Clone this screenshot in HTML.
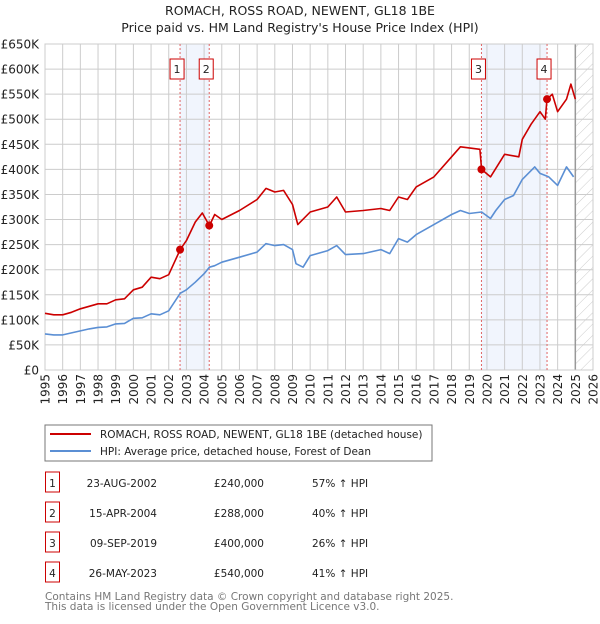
<!DOCTYPE html>
<html><head><meta charset="utf-8"><style>
body{margin:0;background:#fff;font-family:"DejaVu Sans","Liberation Sans",sans-serif;}
svg text{font-family:"DejaVu Sans","Liberation Sans",sans-serif;}
</style></head><body>
<svg id="chart" width="600" height="620" viewBox="0 0 600 620" xmlns="http://www.w3.org/2000/svg">
<defs>
<pattern id="hatch" width="8" height="8" patternUnits="userSpaceOnUse" patternTransform="rotate(45)">
<line x1="0" y1="0" x2="0" y2="8" stroke="#ccc" stroke-width="1"/></pattern>
</defs>
<text x="300" y="15" text-anchor="middle" font-size="12.5" fill="#222">ROMACH, ROSS ROAD, NEWENT, GL18 1BE</text>
<text x="300" y="32" text-anchor="middle" font-size="12.5" fill="#222">Price paid vs. HM Land Registry's House Price Index (HPI)</text>
<g id="plot"></g>
<g>
<rect x="45" y="425" width="387" height="36" fill="#fff" stroke="#777" stroke-width="1"/>
<line x1="50" y1="434" x2="91" y2="434" stroke="#cc0000" stroke-width="2"/>
<text x="100" y="438" font-size="10.5" fill="#222">ROMACH, ROSS ROAD, NEWENT, GL18 1BE (detached house)</text>
<line x1="50" y1="451" x2="91" y2="451" stroke="#5b8fd4" stroke-width="2"/>
<text x="100" y="455" font-size="10.5" fill="#222">HPI: Average price, detached house, Forest of Dean</text>
</g>
<g id="table" font-size="10.5" fill="#222"></g>
<text x="45" y="600" font-size="10.5" fill="#777">Contains HM Land Registry data © Crown copyright and database right 2025.</text>
<text x="45" y="610" font-size="10.5" fill="#777">This data is licensed under the Open Government Licence v3.0.</text>
</svg>
<script>
const hpiYears=[1995,1995.5,1996,1996.5,1997,1997.5,1998,1998.5,1999,1999.5,2000,2000.5,2001,2001.5,2002,2002.65,2003,2003.5,2004,2004.3,2004.6,2005,2006,2007,2007.5,2008,2008.5,2009,2009.2,2009.6,2010,2011,2011.5,2012,2013,2014,2014.5,2015,2015.5,2016,2017,2018,2018.5,2019,2019.7,2020.2,2020.5,2021,2021.5,2022,2022.7,2023,2023.5,2024,2024.5,2024.9];
const hpiValues=[72,70,70,74,78,82,85,86,92,93,103,104,112,110,118,153,160,175,192,205,208,215,225,235,252,248,250,240,212,205,228,238,248,230,232,240,232,262,255,270,290,310,318,312,315,302,318,340,348,380,405,392,385,368,405,385];
const propYears=[1995,1995.5,1996,1996.5,1997,1997.5,1998,1998.5,1999,1999.5,2000,2000.5,2001,2001.5,2002,2002.65,2003,2003.5,2003.9,2004.3,2004.6,2005,2006,2007,2007.5,2008,2008.5,2009,2009.3,2010,2011,2011.5,2012,2013,2014,2014.5,2015,2015.5,2016,2017,2018,2018.5,2019.6,2019.7,2020.2,2021,2021.8,2022,2022.5,2023,2023.3,2023.4,2023.7,2024,2024.5,2024.75,2025];
const propValues=[113,110,110,115,122,127,132,132,140,142,160,165,185,182,190,240,258,295,313,288,310,300,318,340,362,355,358,330,290,315,325,345,315,318,322,318,345,340,365,385,425,445,440,400,385,430,425,460,490,515,500,540,550,515,540,570,540];
const saleLabels=["1","2","3","4"];
const saleYears=[2002.64,2004.29,2019.69,2023.4];
const salePrices=[240,288,400,540];
const saleDates=["23-AUG-2002","15-APR-2004","09-SEP-2019","26-MAY-2023"];
const salePriceText=["£240,000","£288,000","£400,000","£540,000"];
const saleHpiText=["57% ↑ HPI","40% ↑ HPI","26% ↑ HPI","41% ↑ HPI"];
const yTicks=[0,50,100,150,200,250,300,350,400,450,500,550,600,650];
const yTickLabels=["£0","£50K","£100K","£150K","£200K","£250K","£300K","£350K","£400K","£450K","£500K","£550K","£600K","£650K"];
const xTicks=[1995,1996,1997,1998,1999,2000,2001,2002,2003,2004,2005,2006,2007,2008,2009,2010,2011,2012,2013,2014,2015,2016,2017,2018,2019,2020,2021,2022,2023,2024,2025,2026];

const NS="http://www.w3.org/2000/svg";
const L=45,R=593,T=44,B=370;
const x=v=>L+(v-1995)/(2026-1995)*(R-L);
const y=v=>B-v/650*(B-T);
const plot=document.getElementById('plot');
function mk(tag,attrs,parent){const e=document.createElementNS(NS,tag);for(const k in attrs)e.setAttribute(k,attrs[k]);(parent||plot).appendChild(e);return e;}

for(const [a,b] of [[0,1],[2,3]]){
  const r=mk('rect',{x:x(saleYears[a]),y:T,width:x(saleYears[b])-x(saleYears[a]),height:B-T,fill:'#eef3fc',opacity:0.8});
  
  
}
const h=mk('rect',{x:x(2025),y:T,width:R-x(2025),height:B-T,fill:'url(#hatch)'});


yTicks.forEach((v,i)=>{
  const g=mk('line',{x1:L,x2:R,y1:y(v),y2:y(v),stroke:'#cccccc','stroke-width':1});
  
  
  const t=mk('text',{x:39,y:y(v)+4.5,'text-anchor':'end','font-size':'12',fill:'#222'});
  t.textContent=yTickLabels[i];
  
  
});
xTicks.forEach(v=>{
  const g=mk('line',{x1:x(v),x2:x(v),y1:T,y2:B,stroke:'#cccccc','stroke-width':1});
  
  
  const t=mk('text',{x:0,y:0,'text-anchor':'end','font-size':'12',fill:'#222',transform:`translate(${x(v)+4.5},374) rotate(-90)`});
  t.textContent=v;
  
  
});
const nl=mk('line',{x1:x(2025),x2:x(2025),y1:T,y2:B,stroke:'#999','stroke-width':1.5});


const fr=mk('rect',{x:L,y:T,width:R-L,height:B-T,fill:'none',stroke:'#cccccc'});


saleYears.forEach((v,i)=>{
  const l=mk('line',{x1:x(v),x2:x(v),y1:T,y2:B,stroke:'#e06666','stroke-width':1,'stroke-dasharray':'2,2'});
  
  
  const bx=mk('rect',{x:x(v)-10,y:59,width:14,height:20,fill:'#fff',stroke:'#cc0000'});
  
  
  const t=mk('text',{x:x(v)-3,y:73,'text-anchor':'middle','font-size':'11',fill:'#222'});
  t.textContent=saleLabels[i];
  
  
});
function line(xs,vs,color,name){
  const d=xs.map((a,i)=>(i?'L':'M')+x(a).toFixed(1)+','+y(vs[i]).toFixed(1)).join('');
  const p=mk('path',{d:d,fill:'none',stroke:color,'stroke-width':1.6,'stroke-linejoin':'round'});
  
  
}
line(hpiYears,hpiValues,'#5b8fd4','hpi-line');
line(propYears,propValues,'#cc0000','property-price-line');
saleYears.forEach((v,i)=>{
  const c=mk('circle',{cx:x(v),cy:y(salePrices[i]),r:4,fill:'#cc0000'});
  
  
});
const tb=document.getElementById('table');
saleLabels.forEach((s,i)=>{
  const yy=483+i*30;
  const b=mk('rect',{x:45.5,y:yy-11,width:14,height:20,fill:'#fff',stroke:'#cc0000'},tb);
  
  
  const cells=[[52.5,s,'middle'],[157,saleDates[i],'end'],[264,salePriceText[i],'end'],[312,saleHpiText[i],'start']];
  cells.forEach(c=>{
    const t=mk('text',{x:c[0],y:yy+4,'text-anchor':c[2]},tb);
    t.textContent=c[1];
    
    
  });
});
</script>
</body></html>
